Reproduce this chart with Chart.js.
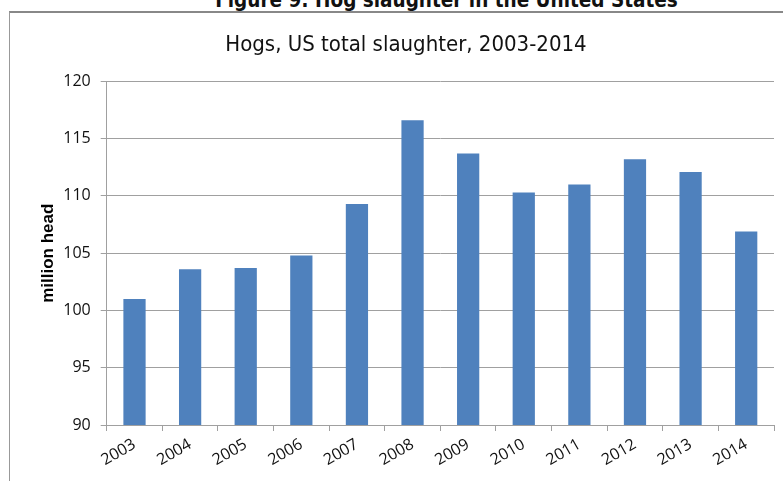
<!DOCTYPE html>
<html>
<head>
<meta charset="utf-8">
<script src="https://cdn.jsdelivr.net/npm/chart.js@4"></script>
<style>
  html, body { margin: 0; padding: 0; background: #fff; overflow: hidden; }
  #wrap { position: relative; width: 783px; height: 481px; }
  #caption {
    position: absolute; left: 0; width: 893px; top: -12px;
    text-align: center; font: bold 20.5px "DejaVu Sans Condensed", "DejaVu Sans", sans-serif; color: #111;
  }
  #frame {
    position: absolute; left: 9px; top: 11px; right: -5px; bottom: -5px;
    border-top: 2px solid #888; border-left: 1px solid #999;
    background: transparent;
  }
  canvas { position: absolute; left: 0; top: 0; }
</style>
</head>
<body>
<div id="wrap">
  <div id="caption">Figure 9: Hog slaughter in the United States</div>
  <div id="frame"></div>
  <canvas id="hogsChart" width="783" height="481"></canvas>
</div>
<script>
// hogs slaughtered per year, million head
const years = ["2003", "2004", "2005", "2006", "2007", "2008", "2009", "2010", "2011", "2012", "2013", "2014"];
const slaughter = [101.0, 103.6, 103.7, 104.8, 109.3, 116.6, 113.7, 110.3, 111.0, 113.2, 112.1, 106.9];
const yMin = 90;
const yMax = 120;
const yStep = 5;

const azul = "#4F81BD";
const grade = "#a0a0a0";
const tickFont = { family: "'Open Sans', 'Liberation Sans', sans-serif", size: 16 };

const ctx = document.getElementById("hogsChart").getContext("2d");
new Chart(ctx, {
  type: "bar",
  data: {
    labels: years,
    datasets: [{
      label: "million head",
      data: slaughter,
      backgroundColor: azul,
      borderWidth: 0,
      categoryPercentage: 0.8,
      barPercentage: 0.5,
    }]
  },
  options: {
    responsive: false,
    devicePixelRatio: 1,
    animation: false,
    layout: { padding: { left: 38, right: 9, top: 0, bottom: 0 } },
    plugins: {
      legend: { display: false },
      tooltip: { enabled: false },
      title: {
        display: true,
        text: "Hogs, US total slaughter, 2003-2014",
        color: "#111",
        font: { family: "'DejaVu Sans Condensed', 'DejaVu Sans', sans-serif", size: 22, weight: "normal" },
        padding: { top: 32, bottom: 23 },
      }
    },
    scales: {
      x: {
        afterFit: (scale) => { scale.height = 56; },
        grid: { drawOnChartArea: false, drawTicks: true, tickLength: 6, color: grade, offset: true },
        border: { color: grade },
        ticks: { color: "#111", font: tickFont, minRotation: 30, maxRotation: 30, padding: 4 },
      },
      y: {
        min: yMin,
        max: yMax,
        afterFit: (scale) => { scale.width = 68.7; },
        grid: { color: grade, tickLength: 6 },
        border: { color: grade },
        ticks: { stepSize: yStep, color: "#111", font: tickFont, padding: 10 },
        title: {
          display: true,
          text: "million head",
          color: "#000",
          font: { family: "'Liberation Sans', Arial, sans-serif", size: 17, weight: "bold" },
          padding: 0,
        }
      }
    }
  }
});
</script>
</body>
</html>
